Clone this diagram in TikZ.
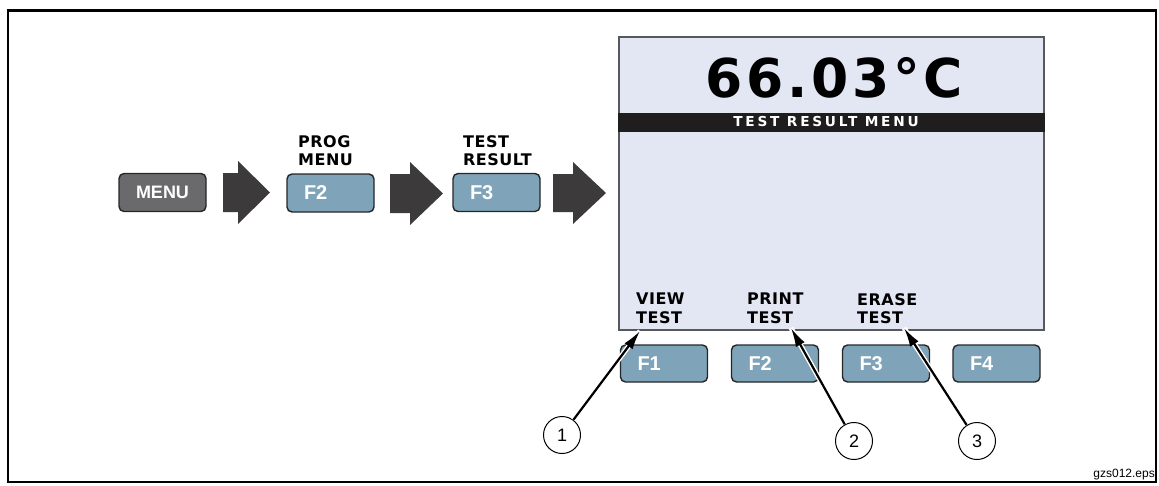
\documentclass[tikz,border=0pt]{standalone}
\usepackage{fontspec}
\setmainfont{Liberation Sans}
\newfontfamily\lcdfont[LetterSpace=3]{DejaVu Sans}
\newfontfamily\lcdwide[LetterSpace=20]{DejaVu Sans}
\newfontfamily\lcdbig[LetterSpace=7]{DejaVu Sans}
\usepackage{xcolor}
\usepackage{tikz}
\usetikzlibrary{arrows.meta,positioning}
\definecolor{keyblue}{HTML}{7FA3B8}
\definecolor{keygray}{HTML}{6A6A6D}
\definecolor{arrowgray}{HTML}{3C3A3B}
\definecolor{lcdbg}{HTML}{E3E7F3}
\definecolor{lcdline}{HTML}{58585A}
\definecolor{barblack}{HTML}{1F1D1E}

\begin{document}
\begin{tikzpicture}[x=1pt,y=1pt,yscale=-1,
  key/.style={draw=black!85,line width=1.4pt,rounded corners=5pt,fill=keyblue,
    minimum height=38pt,text width=53pt,inner xsep=17pt,align=left,
    text=white,font=\bfseries\fontsize{20}{20}\selectfont},
  softlabel/.style={anchor=north west,inner sep=0pt,align=left,
    font=\lcdfont\bfseries\fontsize{16}{18.5}\selectfont},
  callout/.style={circle,draw,line width=1pt,minimum size=37pt,inner sep=0pt,
    font=\fontsize{18}{18}\selectfont},
  leader/.style={-{Latex[length=19pt,width=10pt]},line width=2.2pt,
    preaction={draw=white,line width=5pt,-}}]
\useasboundingbox (0,0) rectangle (1159,485);

%Frame
\draw[line width=2.3pt] (8,10.5) rectangle (1156,482);

%Keys
\node[key,fill=keygray,font=\bfseries\fontsize{18}{18}\selectfont] (menu) at (162.5,192.5) {MENU};
\node[key] (progkey) at (330.5,193) {F2};
\node[key] (testkey) at (496.5,192.5) {F3};

%Right Arrow
\fill[arrowgray] (223,173) -- (238,173) -- (238,161) -- (270,192.5) -- (238,224) -- (238,212) -- (223,212) -- cycle;
%Right Arrow
\fill[arrowgray] (390,174) -- (410,174) -- (410,162) -- (443,193.5) -- (410,225) -- (410,213) -- (390,213) -- cycle;
%Right Arrow
\fill[arrowgray] (553,174) -- (573,174) -- (573,162) -- (606,193) -- (573,224) -- (573,212) -- (553,212) -- cycle;

% Text Node
\node[softlabel] (proglab) at (298,135) {PROG\\MENU};
\node[softlabel] (testlab) at (463,135) {TEST\\RESULT};

%Display
\node[draw=lcdline,fill=lcdbg,line width=1.5pt,minimum width=425pt,minimum height=293pt,inner sep=0pt] (screen) at (831.5,183.5) {};
\node[fill=barblack,minimum width=426.5pt,minimum height=19pt,inner sep=0pt] (titlebar) at (831.5,122.5) {};
\node[anchor=base,inner sep=0pt,text=white,font=\lcdwide\bfseries\fontsize{13.7}{14}\selectfont] (title) at (826,126.7) {TEST RESULT MENU};
\node[anchor=base,inner sep=0pt,font=\lcdbig\bfseries\fontsize{53.5}{54}\selectfont] (temp) at (834,97) {66.03°C};

% Text Node
\node[softlabel] (viewlab) at (636,293) {VIEW\\TEST};
\node[softlabel] (printlab) at (747,293) {PRINT\\TEST};
\node[softlabel] (eraselab) at (857,293) {ERASE\\TEST};

%Function keys
\node[key,minimum height=37pt] (fone) at (664,363.5) {F1};
\node[key,minimum height=37pt] (ftwo) at (775,363.5) {F2};
\node[key,minimum height=37pt] (fthree) at (886,363.5) {F3};
\node[key,minimum height=37pt] (ffour) at (996.5,363.5) {F4};

%Callouts
\coordinate (tipone) at (640,331);
\coordinate (tiptwo) at (791,328);
\coordinate (tipthree) at (904,328);
\node[callout] (cone) at (562,435) {1};
\node[callout] (ctwo) at (854,441) {2};
\node[callout] (cthree) at (977,441) {3};
\draw[leader] (cone) -- (tipone);
\draw[leader] (ctwo) -- (tiptwo);
\draw[leader] (cthree) -- (tipthree);

\node[anchor=base east,inner sep=0pt,font=\fontsize{12}{12}\selectfont] (figname) at (1155,477) {gzs012.eps};
\end{tikzpicture}
\end{document}
